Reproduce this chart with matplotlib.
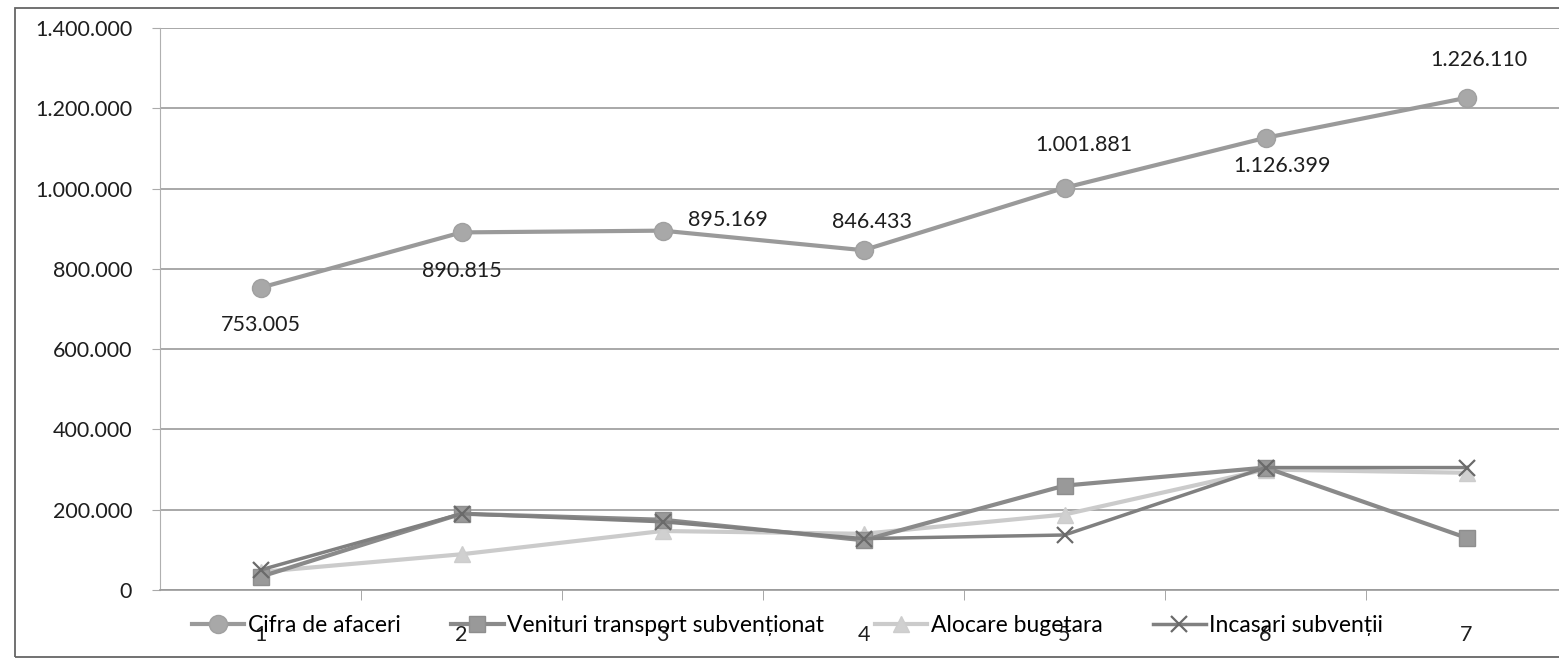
import matplotlib
matplotlib.use("Agg")
import matplotlib.pyplot as plt
from matplotlib.patches import Rectangle
from matplotlib.ticker import FuncFormatter, FixedLocator

plt.rcParams["font.family"] = ["Lato", "DejaVu Sans"]

categories = [1, 2, 3, 4, 5, 6, 7]
cifra_afaceri = [753005, 890815, 895169, 846433, 1001881, 1126399, 1226110]
venituri_transport = [33000, 190000, 175000, 124000, 260000, 305000, 130000]
alocare_bugetara = [45000, 89000, 147000, 140000, 188000, 300000, 292000]
incasari_subventii = [50000, 190000, 170000, 128000, 137000, 305000, 305000]

series_names = ["Cifra de afaceri", "Venituri transport subvenționat",
                "Alocare bugetara", "Incasari subvenții"]

# label offsets (points) for the data labels of the first series
label_offsets = [(0, -27), (0, -28), (47, 8), (6, 20), (14, 31), (12, -20), (9, 27)]

fig = plt.figure(figsize=(15.59, 6.69), dpi=100)
ax = fig.add_axes([160 / 1559, 1 - 590 / 669, 1407 / 1559, 562 / 669])

ax.plot(categories, cifra_afaceri, color="#9a9a9a", lw=3, marker="o", ms=13,
        mfc="#a8a8a8", mec="#a0a0a0", label=series_names[0], zorder=5)
ax.plot(categories, venituri_transport, color="#8a8a8a", lw=3, marker="s", ms=12,
        mfc="#999999", mec="#8e8e8e", label=series_names[1], zorder=4)
ax.plot(categories, alocare_bugetara, color="#cbcbcb", lw=3, marker="^", ms=12,
        mfc="#d0d0d0", mec="#cdcdcd", label=series_names[2], zorder=3)
ax.plot(categories, incasari_subventii, color="#808080", lw=2.5, marker="x", ms=11,
        mew=1.6, mec="#6a6a6a", label=series_names[3], zorder=4)

for x, v, (dx, dy) in zip(categories, cifra_afaceri, label_offsets):
    ax.annotate(f"{v:,.0f}".replace(",", "."), (x, v), xytext=(dx, dy),
                textcoords="offset points", ha="center", va="center",
                fontsize=15.5, color="#1e1e1e")

ax.set_xlim(0.5, 7.5)
ax.set_ylim(0, 1400000)
ax.yaxis.set_major_locator(FixedLocator(range(0, 1400001, 200000)))
ax.yaxis.set_major_formatter(FuncFormatter(lambda v, p: f"{v:,.0f}".replace(",", ".")))
ax.grid(axis="y", color="#9a9a9a", lw=1.2)
ax.set_axisbelow(True)

ax.set_xticks(categories)
ax.set_xticks([c + 0.5 for c in categories[:-1]], minor=True)
ax.tick_params(axis="x", which="major", length=0, pad=25, labelsize=15.5, labelcolor="#1e1e1e")
ax.tick_params(axis="x", which="minor", length=7, color="#999999", direction="out")
ax.tick_params(axis="y", length=6, color="#aaaaaa", labelsize=15.5, labelcolor="#1e1e1e", pad=14)

for s in ["top", "right"]:
    ax.spines[s].set_visible(False)
ax.spines["left"].set_color("#b0b0b0")
ax.spines["bottom"].set_color("#9a9a9a")
ax.spines["bottom"].set_linewidth(1.2)

fig.legend(loc="center", bbox_to_anchor=(0.505, 1 - 626 / 669), ncol=4, frameon=False,
           fontsize=16.5, handlelength=2.3, handletextpad=0.15, columnspacing=2.2)

fig.patches.append(Rectangle((15 / 1559, 1 - 657 / 669), 1.1, 649 / 669,
                             transform=fig.transFigure, fill=False,
                             edgecolor="#666666", lw=1.3))

fig.savefig("out.png", dpi=100)
